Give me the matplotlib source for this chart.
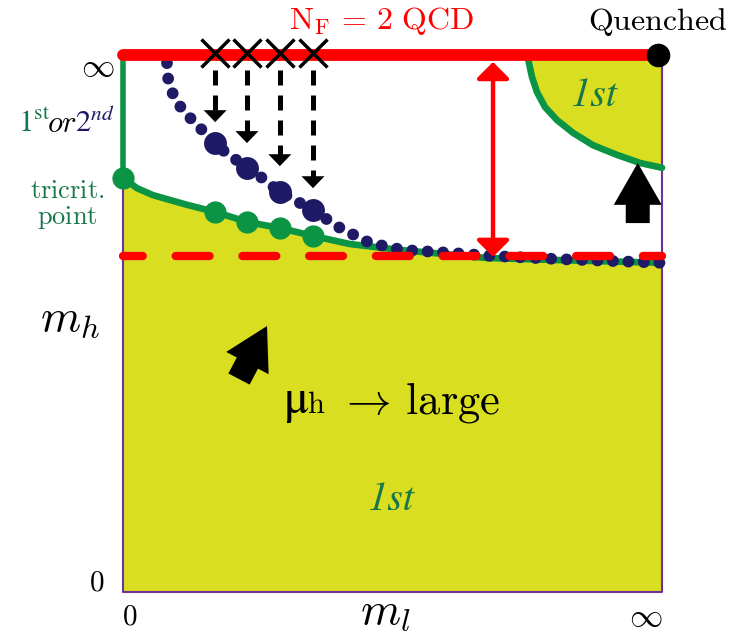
import matplotlib
matplotlib.use("Agg")
import matplotlib.pyplot as plt
from matplotlib.patches import FancyArrow

plt.rcParams["mathtext.fontset"] = "cm"

# phase diagram values, m_l (x) and m_h (y) scaled to [0, 1], 1 = infinity
green_ml = [0.0, 0.026, 0.0557, 0.087, 0.119, 0.148, 0.171, 0.230, 0.291, 0.3525,
            0.421, 0.514, 0.675, 0.811, 1.0]
green_mh = [0.771, 0.752, 0.739, 0.730, 0.721, 0.7135, 0.708, 0.689, 0.678, 0.663,
            0.648, 0.637, 0.622, 0.618, 0.613]

navy_ml = [0.0816, 0.0835, 0.091, 0.102, 0.128, 0.171, 0.195, 0.234, 0.258, 0.291,
           0.3525, 0.4026, 0.458, 0.519, 0.616, 0.681, 0.807, 1.0]
navy_mh = [0.985, 0.957, 0.931, 0.909, 0.879, 0.836, 0.814, 0.790, 0.771, 0.745,
           0.711, 0.678, 0.650, 0.637, 0.631, 0.626, 0.620, 0.613]

upper_ml = [0.750, 0.7588, 0.768, 0.783, 0.805, 0.835, 0.872, 0.9165, 0.959, 1.0]
upper_mh = [1.0, 0.959, 0.931, 0.903, 0.879, 0.855, 0.832, 0.814, 0.799, 0.790]

lattice_ml = [0.171, 0.230, 0.291, 0.3525]
lattice_navy_mh = [0.836, 0.790, 0.745, 0.711]
lattice_green_mh = [0.708, 0.689, 0.678, 0.663]
arrow_tip_mh = [0.875, 0.836, 0.793, 0.752]

tricrit_mh = 0.771
nf2_line_mh = 0.625
quenched_ml = 0.993

yellow = "#d9df20"
green = "#0b9444"
green_txt = "#17774a"
navy = "#1e1a66"
red = "#ff0000"
purple = "#7030a0"

fig = plt.figure(figsize=(7.38, 6.33), dpi=100)
ax = fig.add_axes([123 / 738, 41 / 633, 539 / 738, 537 / 633])
ax.set_xlim(0, 1)
ax.set_ylim(0, 1)
ax.axis("off")

# first order regions
ax.fill_between(green_ml, 0, green_mh, color=yellow, lw=0, zorder=1)
ax.fill_between(upper_ml, upper_mh, 1.0, color=yellow, lw=0, zorder=1)

# frame
ax.plot([0, 0, 1, 1], [tricrit_mh, 0, 0, 1], color=purple, lw=1.5, zorder=2, clip_on=False)

# critical lines
ax.plot([0, 0], [tricrit_mh, 1.0], color=green, lw=4, zorder=3, clip_on=False)
ax.plot(green_ml, green_mh, color=green, lw=4.8, zorder=3, clip_on=False,
        solid_capstyle="round", solid_joinstyle="round")
ax.plot(upper_ml, upper_mh, color=green, lw=4.8, zorder=3, clip_on=False,
        solid_capstyle="round", solid_joinstyle="round")
ax.plot(lattice_ml, lattice_green_mh, "o", color=green, ms=16, mew=0, zorder=4)
ax.plot([0], [tricrit_mh], "o", color=green, ms=16, mew=0, zorder=4, clip_on=False)

ax.plot(navy_ml, navy_mh, color=navy, lw=8.5, ls=(0, (0.01, 1.3)),
        dash_capstyle="round", zorder=5, clip_on=False)
ax.plot(lattice_ml, lattice_navy_mh, "o", color=navy, ms=16.5, mew=0, zorder=5)

# N_F = 2 line and its lower limit
ax.plot([0, 1], [nf2_line_mh, nf2_line_mh], color=red, lw=6,
        ls=(1.69, (4.06, 3.95)), dash_capstyle="round", zorder=6, clip_on=False)
ax.plot([0, quenched_ml], [1, 1], color=red, lw=8.5, solid_capstyle="round",
        zorder=6, clip_on=False)
ax.plot([quenched_ml], [1], "o", color="black", ms=17, mew=0, zorder=7, clip_on=False)
ax.plot(lattice_ml, [1.004] * 4, "x", color="black", ms=20, mew=2.5, zorder=7,
        clip_on=False)

# dashed arrows from the crosses
for x, tip in zip(lattice_ml, arrow_tip_mh):
    ax.plot([x, x], [0.972, tip + 0.02], color="black", lw=3.6, ls=(0, (3, 2)),
            zorder=7)
    ax.annotate("", xy=(x, tip), xytext=(x, tip + 0.03),
                arrowprops=dict(arrowstyle="-|>,head_length=8.6,head_width=8.3",
                                mutation_scale=1, lw=0, color="black",
                                shrinkA=0, shrinkB=0), zorder=7)

# red double arrow
ax.annotate("", xy=(0.6865, 0.624), xytext=(0.6865, 0.987),
            arrowprops=dict(arrowstyle="<|-|>,head_length=10,head_width=10",
                            mutation_scale=1, lw=3.2, color=red,
                            shrinkA=0, shrinkB=0), zorder=7)

# thick black arrows
ax.add_patch(FancyArrow(0.955, 0.687, 0, 0.112, width=0.0445, head_width=0.089,
                        head_length=0.078, length_includes_head=True,
                        color="black", lw=0, zorder=8))
ax.add_patch(FancyArrow(0.2152, 0.3966, 0.052, 0.0987, width=0.0445, head_width=0.089,
                        head_length=0.078, length_includes_head=True,
                        color="black", lw=0, zorder=8))

# labels
ax.text(0.4805, 1.063, r"$\mathrm{N_F\,=\,2\ QCD}$", color=red, fontsize=23,
        ha="center", va="center")
ax.text(0.992, 1.061, r"$\mathrm{Quenched}$", color="black", fontsize=23,
        ha="center", va="center")
ax.text(-0.0464, 0.979, r"$\infty$", color="black", fontsize=24, ha="center", va="center")
ax.text(0.970, -0.045, r"$\infty$", color="black", fontsize=24, ha="center", va="center")
ax.text(-0.048, 0.017, r"$0$", color="black", fontsize=21, ha="center", va="center")
ax.text(0.013, -0.0465, r"$0$", color="black", fontsize=21, ha="center", va="center")
ax.text(-0.098, 0.485, r"$m_h$", color="black", fontsize=33, ha="center", va="baseline")
ax.text(0.486, -0.060, r"$m_l$", color="black", fontsize=33, ha="center", va="baseline")

ax.text(-0.1948, 0.8566, r"$\mathit{1}^{\mathrm{st}}$", color=green_txt, fontsize=22,
        ha="left", va="baseline", math_fontfamily="stix")
ax.text(-0.141, 0.8566, r"$\mathit{or}$", color="black", fontsize=22,
        ha="left", va="baseline")
ax.text(-0.089, 0.8566, r"$\mathit{2}^{\mathit{nd}}$", color=navy, fontsize=22,
        ha="left", va="baseline", math_fontfamily="stix")
ax.text(-0.104, 0.722, "$\\mathrm{tricrit.}$\n$\\mathrm{point}$", color=green_txt,
        fontsize=19, ha="center", va="center", linespacing=1.0)

ax.text(0.297, 0.3333, "μ", color="black", fontsize=34, ha="left", va="baseline",
        family="STIXGeneral")
ax.text(0.342, 0.3333, r"$\mathrm{h}$", color="black", fontsize=22, ha="left",
        va="baseline")
ax.text(0.400, 0.3333, r"$\rightarrow\,\mathrm{large}$", color="black", fontsize=32,
        ha="left", va="baseline")
ax.text(0.499, 0.171, "1st", color=green_txt, fontsize=29, ha="center", va="center",
        family="STIXGeneral", style="italic")
ax.text(0.874, 0.924, "1st", color=green_txt, fontsize=29, ha="center", va="center",
        family="STIXGeneral", style="italic")

fig.savefig("out.png", dpi=100)
